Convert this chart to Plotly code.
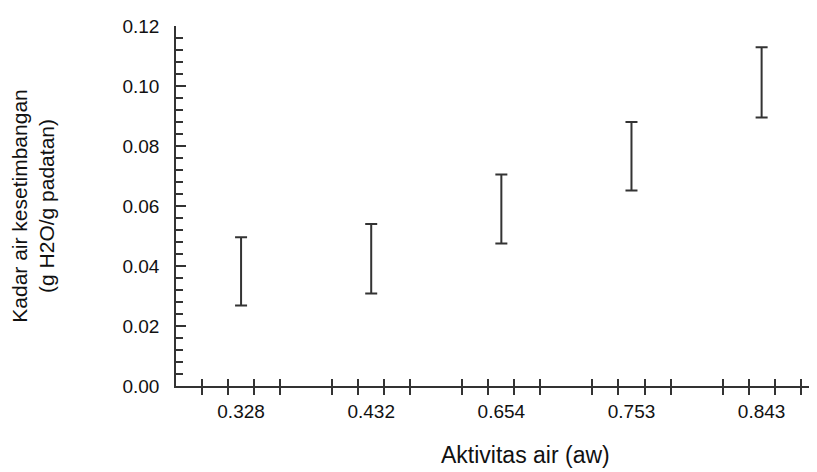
import plotly.graph_objects as go

categories = ["0.328", "0.432", "0.654", "0.753", "0.843"]
means = [0.0382, 0.0424, 0.0590, 0.0766, 0.1012]
errors = [0.0114, 0.0116, 0.0115, 0.0114, 0.0117]
ytick_vals = [0.00, 0.02, 0.04, 0.06, 0.08, 0.10, 0.12]
ytick_text = ["0.00", "0.02", "0.04", "0.06", "0.08", "0.10", "0.12"]
x_title = "Aktivitas air (aw)"
y_title = "Kadar air kesetimbangan<br>(g H2O/g padatan)"

xpos = list(range(1, len(categories) + 1))
minor_x = [p + d for p in xpos for d in (-0.3, -0.1, 0.1, 0.3)]

FONT = "Liberation Sans, Arial, sans-serif"
INK = "#333333"
FS = 19
TFS = 21

fig = go.Figure()
fig.add_trace(go.Scatter(
    x=xpos, y=means, mode="markers",
    marker=dict(size=1, color="rgba(0,0,0,0)"),
    error_y=dict(type="data", array=errors, visible=True,
                 color=INK, thickness=2, width=6),
    showlegend=False, hoverinfo="skip",
))
# overlay axis carrying the upward half of the crossing x ticks
fig.add_trace(go.Scatter(x=[None], y=[None], xaxis="x2", showlegend=False))

# page body has an 8px margin: the figure is shifted by 8px right and down
fig.update_layout(
    width=817, height=472,
    margin=dict(l=168, r=0, t=18, b=94),
    paper_bgcolor="white", plot_bgcolor="white",
    font=dict(family=FONT, size=FS, color="#111111"),
    xaxis=dict(
        range=[0.5, 5.487], tickmode="array", tickvals=xpos, ticktext=categories,
        ticks="", showgrid=False, zeroline=False,
        showline=True, linecolor=INK, linewidth=1.5,
        ticklabelstandoff=7, tickfont=dict(size=FS),
        minor=dict(tickmode="array", tickvals=minor_x, ticks="outside",
                   ticklen=7, tickwidth=1.5, tickcolor=INK, showgrid=False),
    ),
    xaxis2=dict(
        overlaying="x", matches="x", side="bottom", anchor="y",
        tickmode="array", tickvals=minor_x, ticks="inside", ticklen=7,
        tickwidth=1.5, tickcolor=INK, showticklabels=False,
        showgrid=False, zeroline=False, showline=False,
    ),
    yaxis=dict(
        range=[0, 0.12], tickmode="array", tickvals=ytick_vals, ticktext=ytick_text,
        ticks="inside", ticklen=10, tickwidth=1.5, tickcolor=INK,
        showgrid=False, zeroline=False, showline=True, linecolor=INK, linewidth=1.5,
        ticklabelstandoff=11, tickfont=dict(size=FS),
        minor=dict(dtick=0.004, tick0=0, ticks="inside", ticklen=7,
                   tickwidth=1.5, tickcolor=INK, showgrid=False),
        title=dict(text=y_title, standoff=62, font=dict(size=TFS)),
    ),
    annotations=[dict(
        text=x_title, xref="paper", yref="paper", x=0.539, y=-0.192,
        xanchor="center", yanchor="middle", showarrow=False,
        font=dict(size=23, family=FONT, color="#111111"),
    )],
)

fig.write_html("out.html")
